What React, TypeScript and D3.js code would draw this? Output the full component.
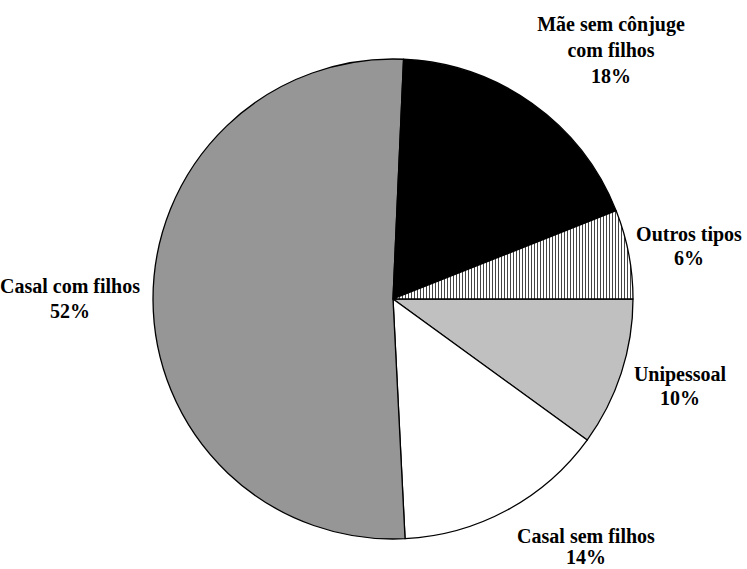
import React from "react";
import * as d3 from "d3";

// Data (clockwise from 3 o'clock)
const categories = ["Unipessoal", "Casal sem filhos", "Casal com filhos", "Mãe sem cônjuge com filhos", "Outros tipos"];
const values = [10.0, 14.2, 51.5, 18.3, 6.0];
const labelLines = [["Unipessoal"], ["Casal sem filhos"], ["Casal com filhos"], ["Mãe sem cônjuge", "com filhos"], ["Outros tipos"]];

const W = 747;
const H = 569;

export default function App() {
  const cx = 393;
  const cy = 299;
  const r = 240;
  const fills = ["#c0c0c0", "#ffffff", "#969696", "#000000", "url(#vhatch)"];
  const labelLayout = [
    { x: 680, y: 381, lh: 24 },
    { x: 586, y: 543, lh: 21 },
    { x: 70, y: 293, lh: 25 },
    { x: 611, y: 31, lh: 26 },
    { x: 689, y: 241, lh: 24 },
  ];

  const pie = d3
    .pie<number>()
    .sort(null)
    .value((d) => d)
    .startAngle(Math.PI / 2)
    .endAngle(Math.PI / 2 + 2 * Math.PI);
  const arcs = pie(values);
  const arc = d3.arc<d3.PieArcDatum<number>>().innerRadius(0).outerRadius(r);

  return (
    <svg
      width={W}
      height={H}
      style={{ position: "absolute", left: 0, top: 0, background: "#fff" }}
      fontFamily="'Liberation Serif', 'Times New Roman', serif"
    >
      <defs>
        <pattern id="vhatch" width={3} height={4} patternUnits="userSpaceOnUse">
          <rect x={0} y={0} width={3} height={4} fill="#fff" />
          <rect x={0} y={0} width={1} height={4} fill="#444" />
        </pattern>
      </defs>
      <g transform={`translate(${cx},${cy})`}>
        {arcs.map((a, i) => (
          <path key={categories[i]} d={arc(a) || ""} fill={fills[i]} stroke="#000" strokeWidth={1.3} strokeLinejoin="round" />
        ))}
      </g>
      {arcs.map((a, i) => {
        const L = labelLayout[i];
        const lines = [...labelLines[i], `${Math.round(values[i])}%`];
        return (
          <text key={"l" + i} x={L.x} y={L.y} textAnchor="middle" fontSize={20} fontWeight="bold" fill="#000">
            {lines.map((t, j) => (
              <tspan key={j} x={L.x} dy={j === 0 ? 0 : L.lh}>
                {t}
              </tspan>
            ))}
          </text>
        );
      })}
    </svg>
  );
}
